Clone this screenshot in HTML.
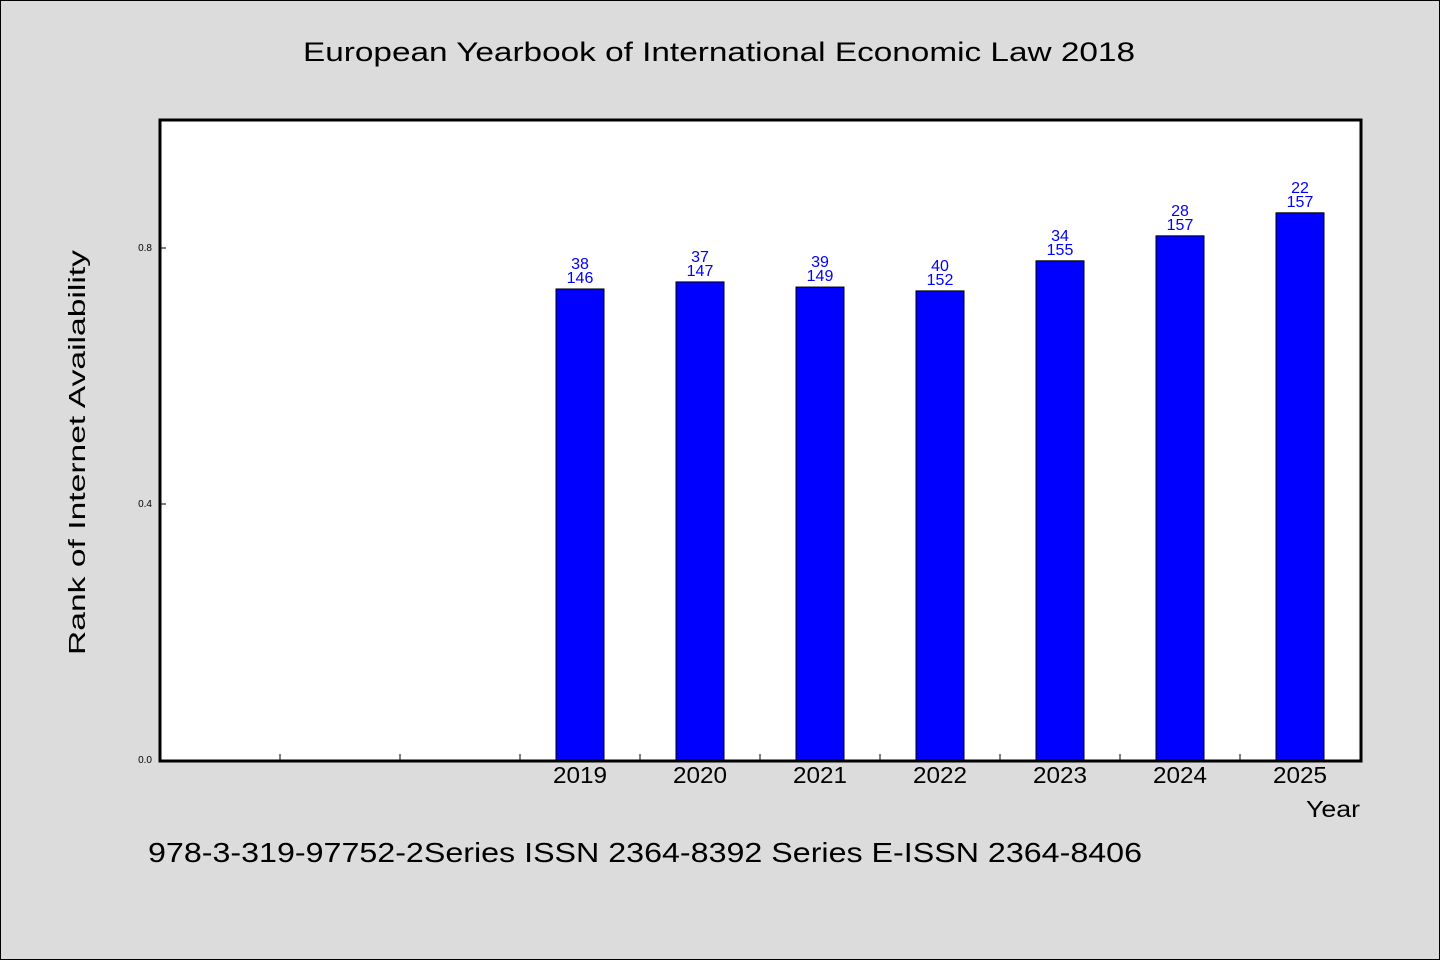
<!DOCTYPE html>
<html><head><meta charset="utf-8"><style>
body{margin:0;background:#dcdcdc;}
svg{display:block;font-family:"Liberation Sans",sans-serif;}
</style></head><body>
<svg id="chart" width="1440" height="960">
<rect x="0.5" y="0.5" width="1439" height="959" fill="#dcdcdc" stroke="#000"/>
<text x="303" y="61" font-size="27" textLength="832" lengthAdjust="spacingAndGlyphs">European Yearbook of International Economic Law 2018</text>
<rect x="160" y="120" width="1201" height="641" fill="#fff" stroke="#000" stroke-width="3"/>
<text transform="translate(85,655) rotate(-90)" font-size="23" textLength="405" lengthAdjust="spacingAndGlyphs">Rank of Internet Availability</text>
<text x="1306" y="817" font-size="23" textLength="54" lengthAdjust="spacingAndGlyphs">Year</text>
<text x="148" y="862" font-size="28" textLength="994" lengthAdjust="spacingAndGlyphs">978-3-319-97752-2Series ISSN 2364-8392 Series E-ISSN 2364-8406</text>
<g id="g"></g>
</svg>
<script>
const categories=["","","","2019","2020","2021","2022","2023","2024","2025"];
const values=[null,null,null,0.736,0.747,0.739,0.733,0.780,0.819,0.855];
const topLabels=["","","","38","37","39","40","34","28","22"];
const bottomLabels=["","","","146","147","149","152","155","157","157"];
const yTicks=[0.0,0.4,0.8];
const x0=160,x1=1360,y0=760,yTop=120,yMax=1.0;
const slot=(x1-x0)/categories.length;
const xc=i=>x0+slot*(i+0.5);
const ys=v=>y0-(v/yMax)*(y0-yTop);
const g=document.getElementById('g');
const NS='http://www.w3.org/2000/svg';
function mk(t,a){const e=document.createElementNS(NS,t);for(const k in a)e.setAttribute(k,a[k]);g.appendChild(e);return e;}
yTicks.forEach(v=>{
 const l=mk('line',{x1:x0,x2:x0+6,y1:ys(v),y2:ys(v),stroke:'#000'});
 
 
 const t=mk('text',{x:x0-8,y:ys(v)+3,'text-anchor':'end','font-size':10});
 t.textContent=v.toFixed(1);
 
 
});
for(let i=1;i<categories.length;i++){
 const l=mk('line',{x1:x0+slot*i,x2:x0+slot*i,y1:y0,y2:y0-6,stroke:'#000'});
 
 
}
categories.forEach((c,i)=>{
 if(values[i]==null)return;
 const bw=48,y=ys(values[i]);
 const r=mk('rect',{x:xc(i)-bw/2,y:y,width:bw,height:y0-y,fill:'#0000ff',stroke:'#000','stroke-width':1});
 
 
 const t1=mk('text',{x:xc(i),y:y-20,'text-anchor':'middle','font-size':16,fill:'#0000ff'});
 t1.textContent=topLabels[i];
 
 
 const t2=mk('text',{x:xc(i),y:y-6,'text-anchor':'middle','font-size':16,fill:'#0000ff'});
 t2.textContent=bottomLabels[i];
 
 
 const xl=mk('text',{x:xc(i)-27,y:y0+23,'font-size':23,textLength:54,lengthAdjust:'spacingAndGlyphs'});
 xl.textContent=c;
 
 
});
</script>
</body></html>
